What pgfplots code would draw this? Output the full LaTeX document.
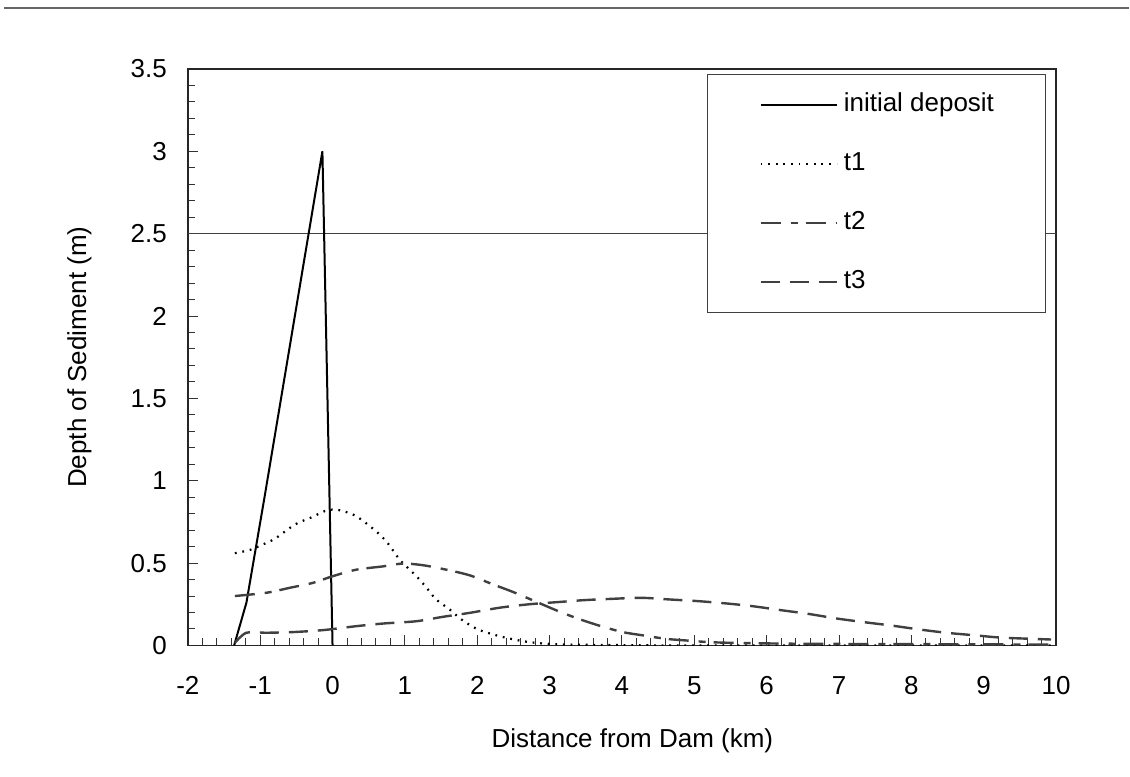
\documentclass[border=0pt]{standalone}
\usepackage{fontspec}
\setmainfont{Liberation Sans}
\usepackage{pgfplots}
\pgfplotsset{compat=1.18}

\begin{document}
\fontsize{13pt}{15pt}\selectfont
\begin{tikzpicture}
\begin{axis}[
    at={(0,0)}, anchor=south west,
    scale only axis,
    width=434.5pt, height=288.5pt,
    xmin=-2, xmax=10, ymin=0, ymax=3.5,
    xtick={-2,...,10},
    ytick={0,0.5,...,3.5},
    minor x tick num=4,
    minor y tick num=4,
    tick align=inside,
    tick pos=left,
    major tick length=5pt,
    minor tick length=3.5pt,
    tick style={black!80, line width=0.5pt},
    axis line style={black!85, line width=0.9pt},
    /pgf/number format/assume math mode=true,
    xticklabel style={yshift=-11pt},
    yticklabel style={xshift=-6pt},
    xlabel={Distance from Dam (km)},
    ylabel={Depth of Sediment (m)},
    every axis x label/.style={at={(axis description cs:0.512,-0.165)}, anchor=center},
    every axis y label/.style={at={(axis description cs:-0.125,0.5)}, rotate=90, anchor=center},
    legend cell align=left,
    legend image code/.code={\draw[#1] (0pt,0pt) -- (38pt,0pt);},
    legend style={at={(axis description cs:0.598,0.991)}, anchor=north west,
        draw=black!75, line width=0.5pt, fill=white,
        inner xsep=26pt, inner ysep=9pt, row sep=17pt,
        nodes={inner xsep=0pt, inner ysep=0pt, text height=9.5pt, text depth=3pt},
        /tikz/every odd column/.append style={column sep=3pt}},
]
% horizontal reference line at 2.5 m
\addplot[black!75, line width=0.6pt, forget plot] coordinates {(-2,2.5) (10,2.5)};

\addplot[black, line width=1pt] coordinates {
    (-1.36,0) (-1.19,0.26) (-0.94,0.90) (-0.30,2.58) (-0.14,3.0) (0.0,0)
};
\addlegendentry{initial deposit}

\addplot[black, line width=1.1pt, dash pattern=on 0.9pt off 2.9pt, smooth] coordinates {
    (-1.35,0.56) (-1.14,0.58) (-1.0,0.606) (-0.80,0.647) (-0.52,0.734)
    (-0.31,0.774) (-0.11,0.815) (0.0,0.825) (0.12,0.819) (0.33,0.784)
    (0.61,0.69) (0.77,0.617) (0.93,0.52) (1.16,0.42) (1.30,0.35)
    (1.43,0.28) (1.62,0.218) (1.78,0.158) (2.01,0.097) (2.31,0.056)
    (2.63,0.026) (2.9,0.012) (3.3,0.005) (4.0,0.002) (5.0,0.0) (10,0)
};
\addlegendentry{t1}

\addplot[black!75, line width=1.2pt, dash pattern=on 10pt off 5pt on 3.5pt off 4pt, smooth] coordinates {
    (-1.35,0.30) (-0.91,0.32) (-0.59,0.35) (-0.27,0.38) (0.0,0.42)
    (0.33,0.46) (0.70,0.48) (0.97,0.497) (1.25,0.487) (1.57,0.46)
    (1.90,0.425) (2.22,0.37) (2.52,0.32) (3.11,0.21) (3.41,0.16)
    (3.71,0.117) (4.01,0.081) (4.29,0.061) (4.61,0.04) (4.89,0.03)
    (5.21,0.02) (5.6,0.015) (6.5,0.01) (8.0,0.008) (10,0.005)
};
\addlegendentry{t2}

\addplot[black!75, line width=1.2pt, dash pattern=on 9.5pt off 5pt, smooth] coordinates {
    (-1.35,0.016) (-1.19,0.077) (-0.91,0.077) (-0.55,0.081) (-0.13,0.093)
    (0.33,0.117) (0.70,0.133) (1.16,0.147) (1.53,0.174) (1.90,0.198)
    (2.31,0.229) (2.72,0.250) (3.11,0.263) (3.48,0.275) (3.87,0.283)
    (4.27,0.289) (4.66,0.279) (5.05,0.269) (5.44,0.255) (5.81,0.238)
    (6.20,0.214) (6.57,0.192) (6.96,0.164) (7.35,0.141) (7.72,0.121)
    (8.11,0.097) (8.48,0.077) (8.89,0.061) (9.26,0.047) (9.93,0.036)
};
\addlegendentry{t3}
\end{axis}
% page frame: separator rule at the top and the overall picture extent
\draw[black!60, line width=1pt] (-92pt,319pt) -- (471pt,319pt);
\path (-94pt,-65.5pt) rectangle (471pt,323pt);
\end{tikzpicture}
\end{document}
